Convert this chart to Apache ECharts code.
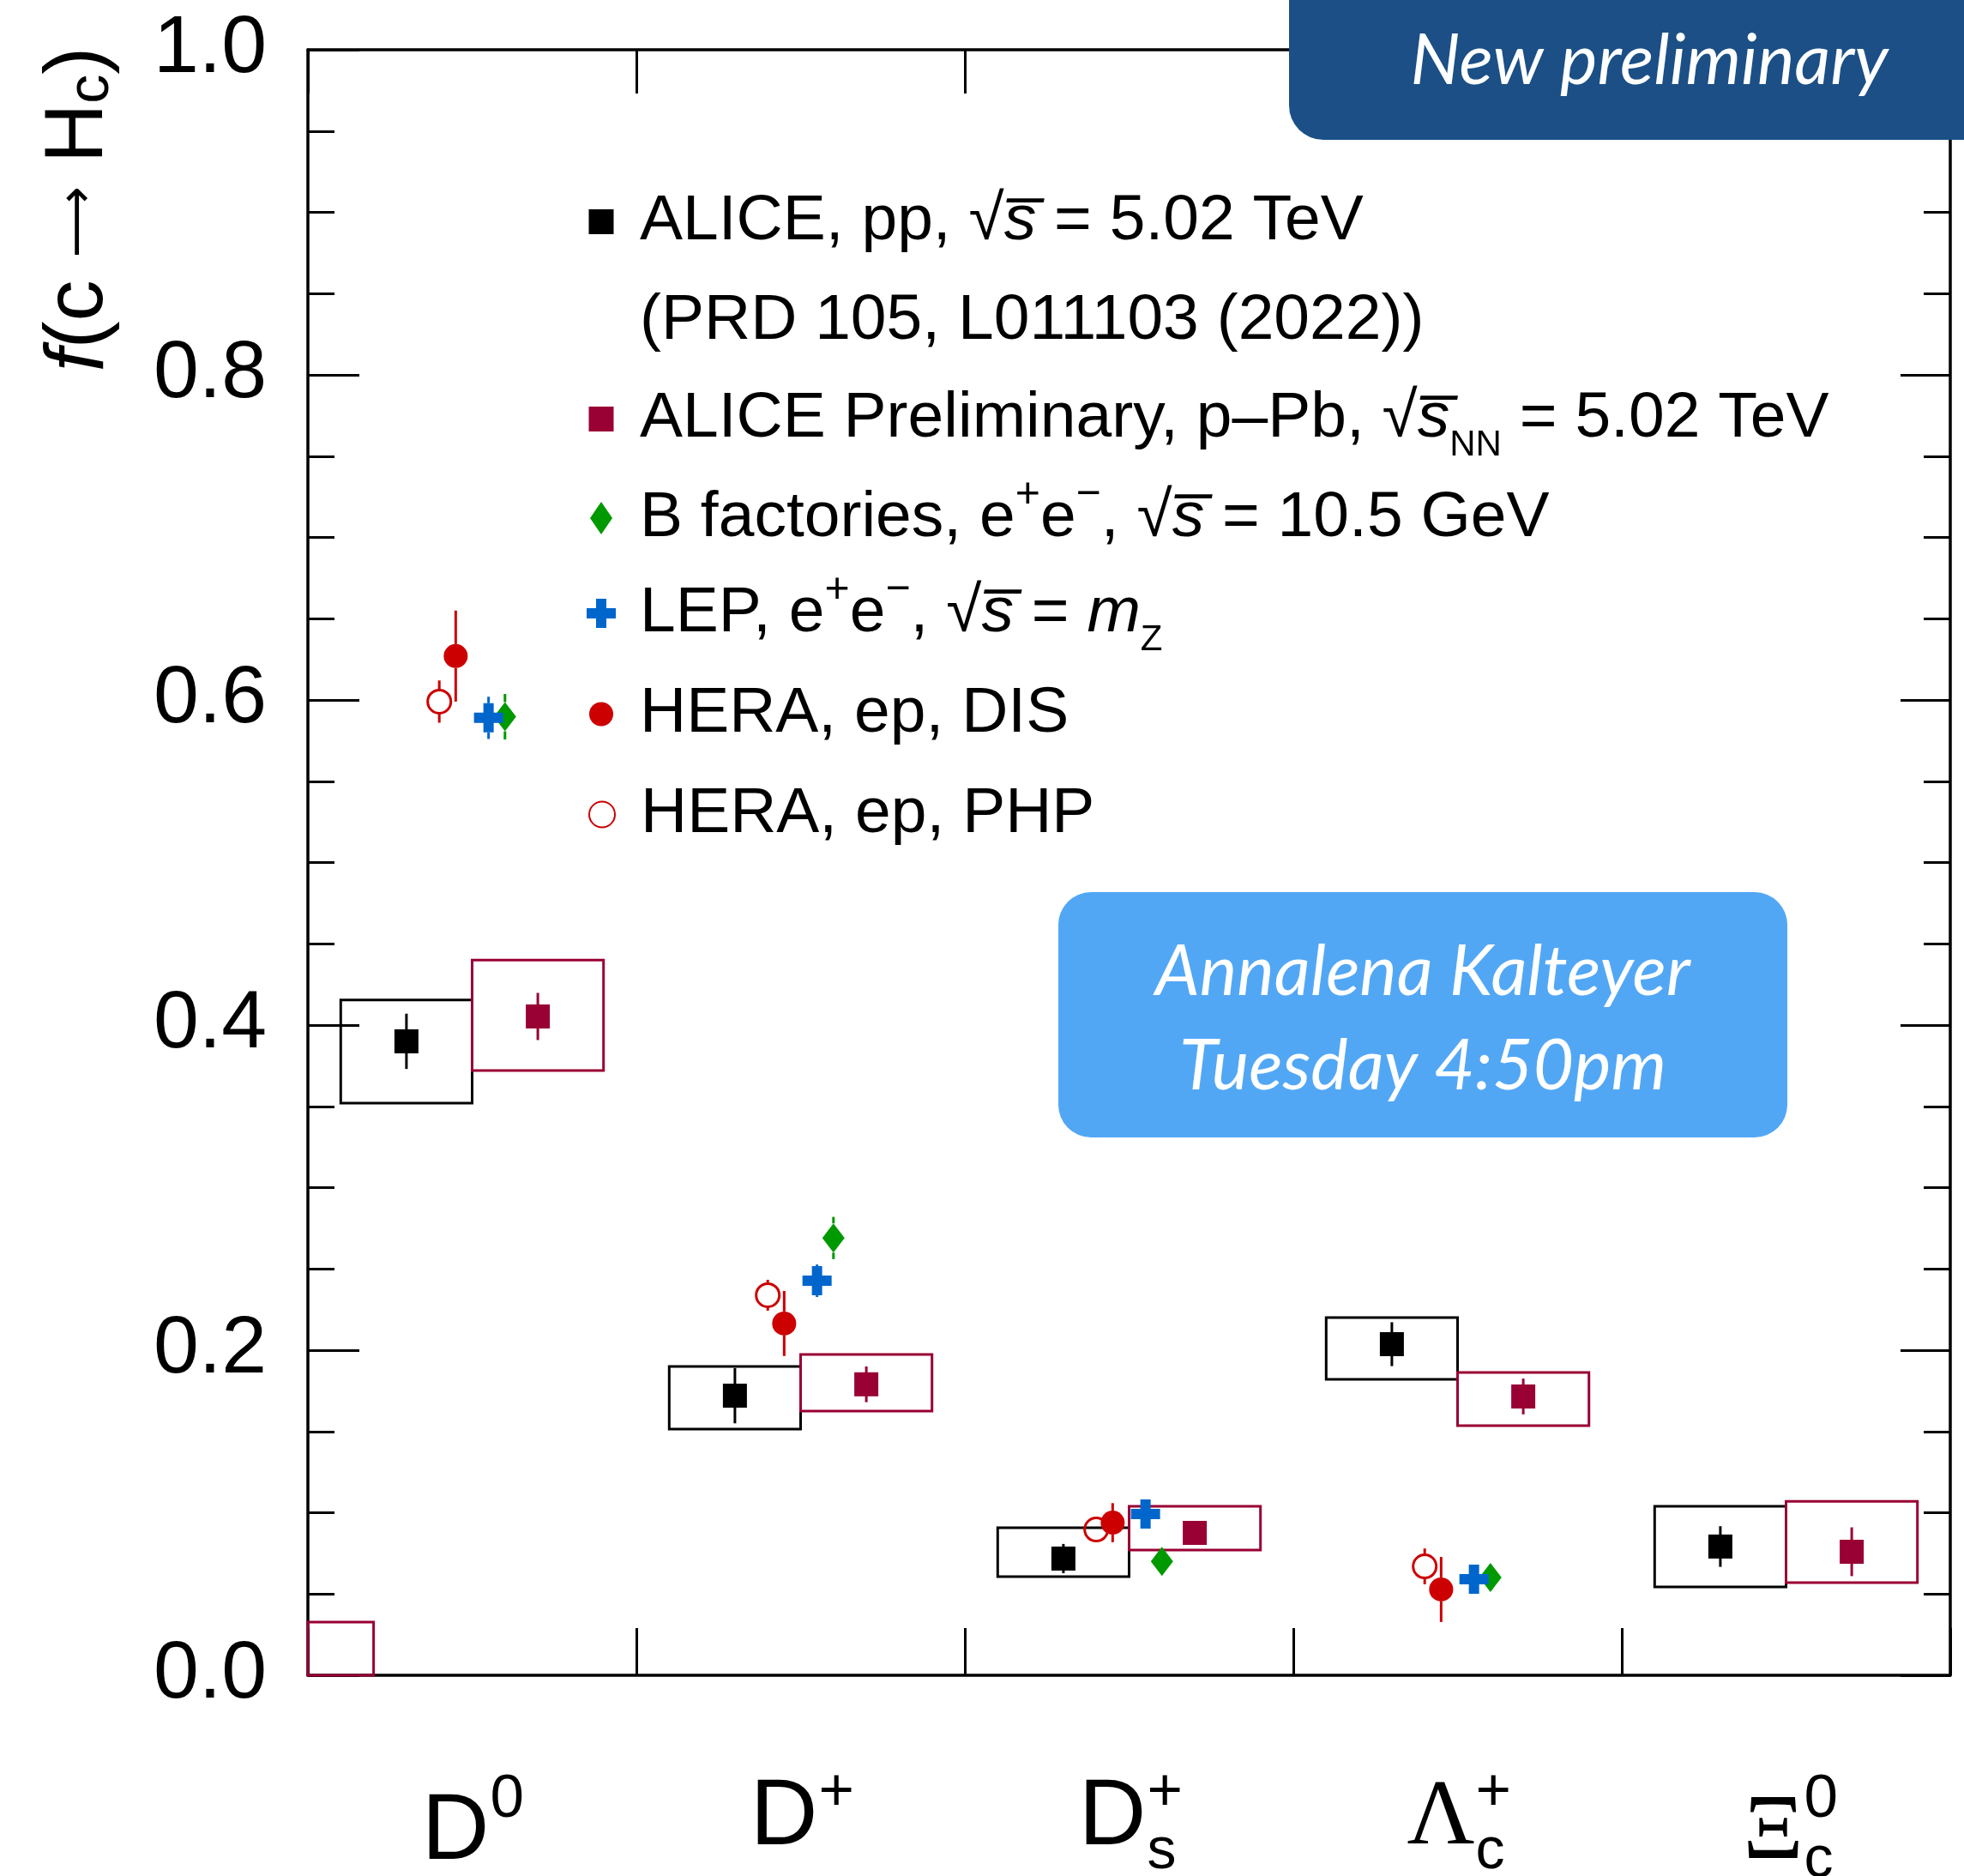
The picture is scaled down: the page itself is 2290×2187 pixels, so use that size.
<!DOCTYPE html>
<html><head><meta charset="utf-8">
<script src="https://cdn.jsdelivr.net/npm/echarts@6/dist/echarts.min.js"></script>
<style>html,body{margin:0;padding:0;background:#fff}#c{width:2290px;height:2187px}</style>
</head><body><div id="c"></div>
<script>
// ---------------- data ----------------
const categories = ['D0', 'D+', 'Ds+', 'Λc+', 'Ξc0'];
const catMain = ['D', 'D', 'D', 'Λ', 'Ξ'];
const catSup  = ['0', '+', '+', '+', '0'];
const catSub  = ['', '', 's', 'c', 'c'];
const yTickLabels = ['0.0', '0.2', '0.4', '0.6', '0.8', '1.0'];

// ALICE pp, sqrt(s) = 5.02 TeV
const ppVal   = [0.390, 0.172, 0.0718, 0.2037, 0.0792];
const ppStat  = [0.017, 0.017, 0.009, 0.0135, 0.0125];
const ppSysLo = [0.352, 0.1515, 0.0607, 0.182, 0.0544];
const ppSysHi = [0.4155, 0.190, 0.0908, 0.220, 0.104];
// ALICE Preliminary p-Pb
const pPbVal   = [0.4053, 0.179, 0.0876, 0.1715, 0.0760];
const pPbStat  = [0.0145, 0.011, 0.005, 0.011, 0.015];
const pPbSysLo = [0.372, 0.1625, 0.077, 0.1536, 0.057];
const pPbSysHi = [0.440, 0.1974, 0.104, 0.1863, 0.107];
// stray p-Pb box drawn at the origin in the reference: x0, x1, y0, y1 (axis units)
const strayBox = [-0.5, -0.3, 0.0, 0.0327];
// B factories
const bVal = [0.5897, 0.269, 0.070, 0.0602];
const bErr = [0.014, 0.013, 0.004, 0.003];
// LEP
const lepVal = [0.589, 0.2427, 0.0992, 0.0591];
const lepErr = [0.013, 0.010, 0.005, 0.003];
// HERA DIS
const disVal = [0.627, 0.2164, 0.0939, 0.0528];
const disErr = [0.028, 0.020, 0.012, 0.020];
// HERA PHP
const phpVal = [0.599, 0.2338, 0.0897, 0.067];
const phpErr = [0.013, 0.0095, 0.004, 0.011];

// ---------------- styles ----------------
const BLACK = '#000000', MAROON = '#990033', GREEN = '#009900', BLUE = '#0066cc', RED = '#cc0000';
const SANS = 'Liberation Sans', SERIF = 'Liberation Serif';
const K = 0.30; // baseline offset of 'middle' in em

const N_PP = 'ALICE, pp, √s = 5.02 TeV (PRD 105, L011103 (2022))';
const N_PPB = 'ALICE Preliminary, p–Pb, √sNN = 5.02 TeV';
const N_B = 'B factories, e+e−, √s = 10.5 GeV';
const N_LEP = 'LEP, e+e−, √s = mZ';
const N_DIS = 'HERA, ep, DIS';
const N_PHP = 'HERA, ep, PHP';

function aliceRender(color, dx, side) {
  return function (params, api) {
    const i = api.value(0), v = api.value(1), e = api.value(2), lo = api.value(3), hi = api.value(4);
    const x0 = side < 0 ? i - 0.4 : i, x1 = side < 0 ? i : i + 0.4;
    const tl = api.coord([x0, hi]), br = api.coord([x1, lo]);
    const c = api.coord([i + dx, v]);
    const et = api.coord([i + dx, v + e]), eb = api.coord([i + dx, v - e]);
    return { type: 'group', children: [
      { type: 'rect', shape: { x: tl[0], y: tl[1], width: br[0] - tl[0], height: br[1] - tl[1] },
        style: { fill: 'none', stroke: color, lineWidth: 3 } },
      { type: 'line', shape: { x1: c[0], y1: et[1], x2: c[0], y2: eb[1] }, style: { stroke: color, lineWidth: 3 } },
      { type: 'rect', shape: { x: c[0] - 14, y: c[1] - 14, width: 28, height: 28 }, style: { fill: color } }
    ]};
  };
}

function pointRender(color, dx, shape) {
  return function (params, api) {
    const i = api.value(0), v = api.value(1), e = api.value(2);
    const c = api.coord([i + dx, v]);
    const et = api.coord([i + dx, v + e]), eb = api.coord([i + dx, v - e]);
    const half = shape === 'diamond' ? 17 : (shape === 'cross' ? 17 : 14);
    const ch = [];
    if (c[1] - half > et[1]) ch.push({ type: 'line', shape: { x1: c[0], y1: et[1], x2: c[0], y2: c[1] - half }, style: { stroke: color, lineWidth: 3 } });
    if (c[1] + half < eb[1]) ch.push({ type: 'line', shape: { x1: c[0], y1: c[1] + half, x2: c[0], y2: eb[1] }, style: { stroke: color, lineWidth: 3 } });
    const x = c[0], y = c[1];
    if (shape === 'circle') ch.push({ type: 'circle', shape: { cx: x, cy: y, r: 14 }, style: { fill: color } });
    else if (shape === 'ring') ch.push({ type: 'circle', shape: { cx: x, cy: y, r: 13.5 }, style: { fill: 'none', stroke: color, lineWidth: 3 } });
    else if (shape === 'diamond') ch.push({ type: 'polygon', shape: { points: [[x, y - 17], [x + 13, y], [x, y + 17], [x - 13, y]] }, style: { fill: color } });
    else if (shape === 'cross') ch.push({ type: 'polygon', shape: { points: [
      [x - 6, y - 17], [x + 6, y - 17], [x + 6, y - 6], [x + 17, y - 6], [x + 17, y + 6], [x + 6, y + 6],
      [x + 6, y + 17], [x - 6, y + 17], [x - 6, y + 6], [x - 17, y + 6], [x - 17, y - 6], [x - 6, y - 6]] }, style: { fill: color } });
    return { type: 'group', children: ch };
  };
}

function catLabelRender(params, api) {
  const i = api.value(0);
  const p = api.coord([i, 0]);
  const cx = p[0], y0 = p[1];
  const main = catMain[i], sup = catSup[i], sub = catSub[i];
  const tall = sup === '0';
  const greek = main !== 'D';
  const fsM = 109, fsS = 71, fsB = 68;
  const mainBase = y0 + (tall ? 217 : 200);
  const supBase = y0 + (tall ? 167 : 159);
  const subBase = y0 + (tall ? 237 : 227);
  const ch = [
    { type: 'text', x: cx + 20, y: mainBase - K * fsM, style: { text: main, fill: '#000',
      font: fsM + 'px "' + (greek ? SERIF : SANS) + '"', align: 'right', textAlign: 'right', verticalAlign: 'middle', textVerticalAlign: 'middle' } },
    { type: 'text', x: cx + 21, y: supBase - K * fsS, style: { text: sup, fill: '#000',
      font: fsS + 'px "' + SANS + '"', align: 'left', textAlign: 'left', verticalAlign: 'middle', textVerticalAlign: 'middle' } }
  ];
  if (sub) ch.push({ type: 'text', x: cx + 21, y: subBase - K * fsB, style: { text: sub, fill: '#000',
      font: fsB + 'px "' + SANS + '"', align: 'left', textAlign: 'left', verticalAlign: 'middle', textVerticalAlign: 'middle' } });
  return { type: 'group', children: ch };
}

const aliceData = (val, st, lo, hi) => val.map((v, i) => [i, v, st[i], lo[i], hi[i]]);
const pointData = (val, err) => val.map((v, i) => [i, v, err[i]]);

// legend rich text
const LH = 104;
const rich = {
  t:   { fontFamily: SANS, fontSize: 75, color: '#000', lineHeight: LH, verticalAlign: 'middle' },
  it:  { fontFamily: SANS, fontSize: 75, fontStyle: 'italic', color: '#000', lineHeight: LH, verticalAlign: 'middle' },
  sup: { fontFamily: SANS, fontSize: 50, color: '#000', lineHeight: 50, verticalAlign: 'top' },
  sub: { fontFamily: SANS, fontSize: 42, color: '#000', lineHeight: 42, verticalAlign: 'bottom' },
  t2:  { fontFamily: SANS, fontSize: 75, color: '#000', lineHeight: 116, verticalAlign: 'middle' },
  it2: { fontFamily: SANS, fontSize: 75, fontStyle: 'italic', color: '#000', lineHeight: 116, verticalAlign: 'middle' },
  gap: { fontFamily: SANS, fontSize: 75, color: '#000', lineHeight: 116, verticalAlign: 'middle' }
};
const legendText = {};
legendText[N_PP]  = '{gap| }\n{t2|ALICE, pp, √}{it2|s\u0305}{t2| = 5.02 TeV}\n{t2|(PRD 105, L011103 (2022))}';
legendText[N_PPB] = '{t|ALICE Preliminary, p–Pb, √}{it|s\u0305}{sub|NN}{t| = 5.02 TeV}';
legendText[N_B]   = '{t|B factories, e}{sup|+}{t|e}{sup|−}{t|, √}{it|s\u0305}{t| = 10.5 GeV}';
legendText[N_LEP] = '{t|LEP, e}{sup|+}{t|e}{sup|−}{t|, √}{it|s\u0305}{t| = }{it|m}{sub|Z}';
legendText[N_DIS] = '{t|HERA, ep, DIS}';
legendText[N_PHP] = '{t|HERA, ep, PHP}';

// icon centre x = 701, text starts at x = 746
function mkLegend(name, icon, color, top, itemW, itemH) {
  return {
    show: true, selectedMode: false, orient: 'vertical', left: 701 - itemW / 2, top: top, padding: 0,
    itemWidth: itemW, itemHeight: itemH, symbolKeepAspect: true,
    data: [{ name: name, icon: icon, itemStyle: { color: color } }],
    formatter: (n) => legendText[n],
    textStyle: { fontFamily: SANS, fontSize: 75, color: '#000', rich: rich, padding: [0, 0, 0, 40 - itemW / 2] }
  };
}

const axisLineStyle = { color: '#000', width: 3.5 };
const tickStyle = { color: '#000', width: 3 };

const option = {
  animation: false,
  backgroundColor: '#fff',
  grid: { left: 359, right: 16, top: 58, bottom: 234, containLabel: false },
  xAxis: [
    { type: 'value', min: -0.5, max: 4.5, interval: 1, position: 'bottom',
      axisLine: { show: true, onZero: false, lineStyle: axisLineStyle },
      axisTick: { show: true, inside: true, length: 55, lineStyle: tickStyle },
      axisLabel: { show: false }, splitLine: { show: false } },
    { type: 'value', min: -0.5, max: 4.5, interval: 1, position: 'top',
      axisLine: { show: true, onZero: false, lineStyle: axisLineStyle },
      axisTick: { show: true, inside: true, length: 51, lineStyle: tickStyle },
      axisLabel: { show: false }, splitLine: { show: false } }
  ],
  yAxis: [
    { type: 'value', min: 0, max: 1, interval: 0.2, position: 'left',
      axisLine: { show: true, onZero: false, lineStyle: axisLineStyle },
      axisTick: { show: true, inside: true, length: 60, lineStyle: tickStyle },
      minorTick: { show: true, splitNumber: 4, length: 31, lineStyle: tickStyle },
      axisLabel: { show: true, margin: 48, fontSize: 95, fontFamily: SANS, color: '#000',
        formatter: (v) => yTickLabels[Math.round(v * 5)] },
      splitLine: { show: false }, minorSplitLine: { show: false } },
    { type: 'value', min: 0, max: 1, interval: 0.2, position: 'right',
      axisLine: { show: true, onZero: false, lineStyle: axisLineStyle },
      axisTick: { show: true, inside: true, length: 58, lineStyle: tickStyle },
      minorTick: { show: true, splitNumber: 4, length: 31, lineStyle: tickStyle },
      axisLabel: { show: false }, splitLine: { show: false }, minorSplitLine: { show: false } }
  ],
  legend: [
    mkLegend(N_PP, 'rect', BLACK, 105, 29, 29),
    mkLegend(N_PPB, 'rect', MAROON, 451, 29, 29),
    mkLegend(N_B, 'path://M0,-19L13,0L0,19L-13,0Z', GREEN, 552, 26, 39),
    mkLegend(N_LEP, 'path://M-6,-17H6V-6H17V6H6V17H-6V6H-17V-6H-6Z', BLUE, 663, 34, 35),
    mkLegend(N_DIS, 'circle', RED, 795, 28, 28),
    mkLegend(N_PHP, 'emptyCircle', RED, 912, 30, 30)
  ],
  series: [
    { type: 'custom', name: 'stray', silent: true, clip: false, xAxisIndex: 0, yAxisIndex: 0,
      data: [strayBox], encode: { x: [0, 1], y: [2, 3] },
      renderItem: (params, api) => {
        const tl = api.coord([api.value(0), api.value(3)]), br = api.coord([api.value(1), api.value(2)]);
        return { type: 'rect', shape: { x: tl[0], y: tl[1], width: br[0] - tl[0], height: br[1] - tl[1] },
          style: { fill: 'none', stroke: MAROON, lineWidth: 3 } };
      } },
    { type: 'custom', name: N_PP, silent: true, clip: false, itemStyle: { color: BLACK },
      data: aliceData(ppVal, ppStat, ppSysLo, ppSysHi), encode: { x: 0, y: 1 }, renderItem: aliceRender(BLACK, -0.2, -1) },
    { type: 'custom', name: N_PPB, silent: true, clip: false, itemStyle: { color: MAROON },
      data: aliceData(pPbVal, pPbStat, pPbSysLo, pPbSysHi), encode: { x: 0, y: 1 }, renderItem: aliceRender(MAROON, 0.2, 1) },
    { type: 'custom', name: N_B, silent: true, clip: false, itemStyle: { color: GREEN },
      data: pointData(bVal, bErr), encode: { x: 0, y: 1 }, renderItem: pointRender(GREEN, 0.1, 'diamond') },
    { type: 'custom', name: N_LEP, silent: true, clip: false, itemStyle: { color: BLUE },
      data: pointData(lepVal, lepErr), encode: { x: 0, y: 1 }, renderItem: pointRender(BLUE, 0.05, 'cross') },
    { type: 'custom', name: N_PHP, silent: true, clip: false, itemStyle: { color: RED },
      data: pointData(phpVal, phpErr), encode: { x: 0, y: 1 }, renderItem: pointRender(RED, -0.1, 'ring') },
    { type: 'custom', name: N_DIS, silent: true, clip: false, itemStyle: { color: RED },
      data: pointData(disVal, disErr), encode: { x: 0, y: 1 }, renderItem: pointRender(RED, -0.05, 'circle') },
    { type: 'custom', name: 'categoryLabels', silent: true, clip: false,
      data: categories.map((c, i) => [i, 0]), encode: { x: 0, y: 1 }, renderItem: catLabelRender }
  ],
  graphic: [
    { type: 'text', x: 93, y: 244, rotation: Math.PI / 2, z: 50,
      style: { text: '{i|f}{n|(c }{ar|⟶}{n| H}{s|c}{n|)}', align: 'center', verticalAlign: 'middle',
        textAlign: 'center', textVerticalAlign: 'middle',
        rich: {
          i: { fontFamily: SANS, fontSize: 96, fontStyle: 'italic', fill: '#000', lineHeight: 96, verticalAlign: 'middle' },
          n: { fontFamily: SANS, fontSize: 96, fill: '#000', lineHeight: 96, verticalAlign: 'middle' },
          ar: { fontFamily: 'DejaVu Sans', fontSize: 58, fill: '#000', lineHeight: 96, verticalAlign: 'middle' },
          s: { fontFamily: SANS, fontSize: 68, fill: '#000', lineHeight: 68, verticalAlign: 'bottom', height: 68 }
        }, lineHeight: 140 } },
    { type: 'rect', z: 100, shape: { x: 1503, y: -60, width: 860, height: 223, r: 40 }, style: { fill: '#1b4f86' } },
    { type: 'text', z: 101, x: 1923, y: 72, style: { text: 'New preliminary', fill: '#fff',
      font: 'italic 82px Lato', align: 'center', verticalAlign: 'middle', textAlign: 'center', textVerticalAlign: 'middle' } },
    { type: 'rect', z: 100, shape: { x: 1234, y: 1040, width: 850, height: 286, r: 38 }, style: { fill: '#52a7f5' } },
    { type: 'text', z: 101, x: 1659, y: 1134, style: { text: 'Annalena Kalteyer', fill: '#fff',
      font: 'italic 82px Lato', align: 'center', verticalAlign: 'middle', textAlign: 'center', textVerticalAlign: 'middle' } },
    { type: 'text', z: 101, x: 1659, y: 1244, style: { text: 'Tuesday 4:50pm', fill: '#fff',
      font: 'italic 82px Lato', align: 'center', verticalAlign: 'middle', textAlign: 'center', textVerticalAlign: 'middle' } }
  ]
};

const chart = echarts.init(document.getElementById('c'), null, { renderer: 'canvas' });
chart.setOption(option);
</script>
</body></html>
